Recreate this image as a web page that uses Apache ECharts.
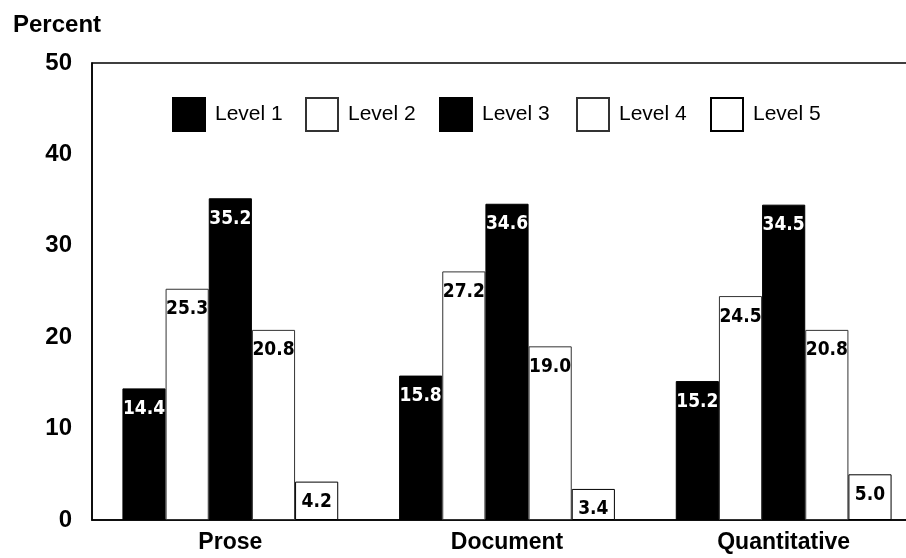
<!DOCTYPE html>
<html>
<head>
<meta charset="utf-8">
<script src="https://cdn.jsdelivr.net/npm/echarts@6/dist/echarts.min.js"></script>
<style>html,body{margin:0;padding:0;background:#fff;}#c{width:906px;height:558px;}</style>
</head>
<body>
<div id="c"></div>
<script>
var categories = ['Prose', 'Document', 'Quantitative'];
var seriesNames = ['Level 1', 'Level 2', 'Level 3', 'Level 4', 'Level 5'];
var level1 = [14.4, 15.8, 15.2];
var level2 = [25.3, 27.2, 24.5];
var level3 = [35.2, 34.6, 34.5];
var level4 = [20.8, 19.0, 20.8];
var level5 = [4.2, 3.4, 5.0];
var yTicks = [0, 10, 20, 30, 40, 50];

var values = [level1, level2, level3, level4, level5];
var dark = [true, false, true, false, false];
var legendLeft = [172, 305, 439, 576, 710];
var labelFont = "'Liberation Sans Narrow','DejaVu Sans Condensed','Liberation Sans',sans-serif";

var chart = echarts.init(document.getElementById('c'), null, {renderer: 'canvas'});

var series = seriesNames.map(function (name, i) {
  return {
    name: name,
    type: 'bar',
    data: values[i],
    barGap: '0%',
    barCategoryGap: '22%',
    itemStyle: dark[i]
      ? {color: '#000', borderColor: '#000', borderWidth: 1}
      : {color: '#fff', borderColor: i === 4 ? '#000' : '#333', borderWidth: 1},
    label: {
      show: true,
      position: 'insideTop',
      distance: 11,
      color: dark[i] ? '#fff' : '#000',
      fontFamily: labelFont,
      fontWeight: 'bold',
      fontSize: 19,
      formatter: function (p) { return p.value.toFixed(1); }
    }
  };
});

var legends = seriesNames.map(function (name, i) {
  return {
    data: [name],
    left: legendLeft[i],
    top: 97,
    padding: 0,
    itemWidth: 32,
    itemHeight: 33,
    icon: 'rect',
    selectedMode: false,
    textStyle: {
      fontFamily: "'Liberation Sans',Arial,sans-serif",
      fontSize: 21,
      color: '#000',
      padding: [0, 0, 0, 5]
    }
  };
});

chart.setOption({
  animation: false,
  backgroundColor: '#fff',
  title: {
    text: 'Percent',
    left: 13,
    top: 13,
    padding: 0,
    textStyle: {fontFamily: "'Liberation Sans',Arial,sans-serif", fontWeight: 'bold', fontSize: 24, color: '#000'}
  },
  legend: legends,
  grid: {
    left: 92,
    top: 63,
    bottom: 38,
    width: 830,
    outerBoundsMode: 'none',
    show: true,
    borderColor: '#000',
    borderWidth: 1.5,
    containLabel: false
  },
  xAxis: {
    type: 'category',
    data: categories,
    axisLine: {show: true, lineStyle: {color: '#000', width: 1.5}},
    axisTick: {show: false},
    axisLabel: {
      margin: 11,
      color: '#000',
      fontFamily: "'Liberation Sans',Arial,sans-serif",
      fontWeight: 'bold',
      fontSize: 23
    }
  },
  yAxis: {
    type: 'value',
    min: yTicks[0],
    max: yTicks[yTicks.length - 1],
    interval: yTicks[1] - yTicks[0],
    axisLine: {show: true, lineStyle: {color: '#000', width: 1.5}},
    axisTick: {show: false},
    splitLine: {show: false},
    axisLabel: {
      margin: 20,
      color: '#000',
      fontFamily: "'Liberation Sans',Arial,sans-serif",
      fontWeight: 'bold',
      fontSize: 24
    }
  },
  series: series
});
</script>
</body>
</html>
